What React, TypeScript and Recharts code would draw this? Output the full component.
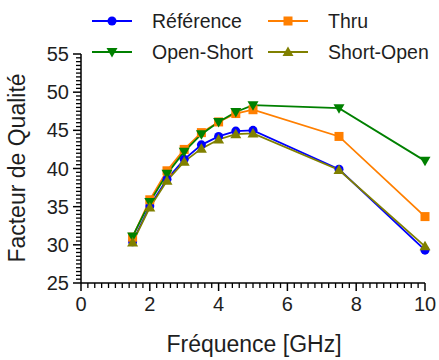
import { LineChart, Line, XAxis, YAxis } from 'recharts';

// Frequency points (GHz)
const FREQ = [1.5, 2, 2.5, 3, 3.5, 4, 4.5, 5, 7.5, 10];

// Quality factor per extraction method
const REFERENCE = [30.4, 35.1, 38.6, 41.2, 43.1, 44.2, 44.9, 45.0, 39.9, 29.3];
const THRU = [31.0, 35.9, 39.7, 42.5, 44.7, 46.1, 47.2, 47.7, 44.2, 33.7];
const OPEN_SHORT = [31.1, 35.6, 39.3, 42.2, 44.5, 46.1, 47.4, 48.3, 47.9, 41.0];
const SHORT_OPEN = [30.3, 34.9, 38.4, 40.9, 42.6, 43.8, 44.5, 44.6, 39.8, 29.8];

const X_TICKS = [0, 2, 4, 6, 8, 10];
const X_MINOR = [
  0.2, 0.4, 0.6, 0.8, 1, 1.2, 1.4, 1.6, 1.8,
  2.2, 2.4, 2.6, 2.8, 3, 3.2, 3.4, 3.6, 3.8,
  4.2, 4.4, 4.6, 4.8, 5, 5.2, 5.4, 5.6, 5.8,
  6.2, 6.4, 6.6, 6.8, 7, 7.2, 7.4, 7.6, 7.8,
  8.2, 8.4, 8.6, 8.8, 9, 9.2, 9.4, 9.6, 9.8,
];
const Y_TICKS = [25, 30, 35, 40, 45, 50, 55];
const Y_MINOR = [
  25.5, 26, 26.5, 27, 27.5, 28, 28.5, 29, 29.5,
  30.5, 31, 31.5, 32, 32.5, 33, 33.5, 34, 34.5,
  35.5, 36, 36.5, 37, 37.5, 38, 38.5, 39, 39.5,
  40.5, 41, 41.5, 42, 42.5, 43, 43.5, 44, 44.5,
  45.5, 46, 46.5, 47, 47.5, 48, 48.5, 49, 49.5,
  50.5, 51, 51.5, 52, 52.5, 53, 53.5, 54, 54.5,
];

const rows = FREQ.map((f, i) => ({
  f,
  ref: REFERENCE[i],
  thru: THRU[i],
  os: OPEN_SHORT[i],
  so: SHORT_OPEN[i],
}));

type Shape = 'circle' | 'square' | 'down' | 'up';

const SERIES: { key: string; name: string; color: string; shape: Shape }[] = [
  { key: 'ref', name: 'Référence', color: '#0000ff', shape: 'circle' },
  { key: 'thru', name: 'Thru', color: '#ff7f00', shape: 'square' },
  { key: 'os', name: 'Open-Short', color: '#008000', shape: 'down' },
  { key: 'so', name: 'Short-Open', color: '#808000', shape: 'up' },
];

const FONT = '"Liberation Sans", Arial, sans-serif';
const TEXT = '#1e1e1e';
const MAJOR_LEN = 8;
const MINOR_LEN = 5;

function Marker({ x, y, shape, color }: { x: number; y: number; shape: Shape; color: string }) {
  if (shape === 'circle') return <circle cx={x} cy={y} r={4.5} fill={color} />;
  if (shape === 'square') return <rect x={x - 4.5} y={y - 4.5} width={9} height={9} fill={color} />;
  if (shape === 'down')
    return <path d={`M${x - 5.5},${y - 4} L${x + 5.5},${y - 4} L${x},${y + 5.5} Z`} fill={color} />;
  return <path d={`M${x - 5.5},${y + 4} L${x + 5.5},${y + 4} L${x},${y - 5.5} Z`} fill={color} />;
}

const dotFor = (shape: Shape, color: string) => (props: any) => {
  const { cx, cy, index } = props;
  if (cx == null || cy == null) return <g key={index} />;
  return (
    <g key={index}>
      <Marker x={cx} y={cy} shape={shape} color={color} />
    </g>
  );
};

// tick label position comes in as (x, y) at the end of a MAJOR_LEN tick (tickMargin 0)
function XTick(props: any) {
  const { x, y, payload } = props;
  const major = X_TICKS.includes(payload.value);
  const y0 = y - MAJOR_LEN;
  return (
    <g>
      <line x1={x} y1={y0} x2={x} y2={y0 + (major ? MAJOR_LEN : MINOR_LEN)} stroke="#000" strokeWidth={major ? 1.5 : 1.3} />
      {major && (
        <text x={x} y={y0 + 28} textAnchor="middle" fill={TEXT} fontSize={20} fontFamily={FONT}>
          {payload.value}
        </text>
      )}
    </g>
  );
}

function YTick(props: any) {
  const { x, y, payload } = props;
  const major = Y_TICKS.includes(payload.value);
  const x0 = x + MAJOR_LEN;
  return (
    <g>
      <line x1={x0} y1={y} x2={x0 - (major ? MAJOR_LEN : MINOR_LEN)} y2={y} stroke="#000" strokeWidth={major ? 1.5 : 1.3} />
      {major && (
        <text x={x0 - 12} y={y + 7} textAnchor="end" fill={TEXT} fontSize={20} fontFamily={FONT}>
          {payload.value}
        </text>
      )}
    </g>
  );
}

function LegendBox() {
  const cols = [92, 268];
  const rowsY = [21, 52];
  return (
    <>
      {SERIES.map((s, i) => {
        const left = cols[i % 2];
        const top = rowsY[Math.floor(i / 2)];
        return (
          <div
            key={s.key}
            style={{ position: 'absolute', left, top: top - 12, height: 24, display: 'flex', alignItems: 'center' }}
          >
            <svg width={40} height={24}>
              <line x1={0} y1={12} x2={40} y2={12} stroke={s.color} strokeWidth={1.8} />
              <Marker x={20} y={12} shape={s.shape} color={s.color} />
            </svg>
            <span style={{ marginLeft: 20, fontFamily: FONT, fontSize: 19.5, color: TEXT, whiteSpace: 'nowrap' }}>
              {s.name}
            </span>
          </div>
        );
      })}
    </>
  );
}

export default function App() {
  return (
    <div style={{ position: 'absolute', left: 0, top: 0, width: 439, height: 360, background: '#fff' }}>
      <LineChart width={439} height={360} data={rows} margin={{ top: 54, right: 14, bottom: 0, left: 0 }}>
        <XAxis
          dataKey="f"
          type="number"
          domain={[0, 10]}
          ticks={[...X_TICKS, ...X_MINOR]}
          interval={0}
          height={77}
          tickSize={MAJOR_LEN}
          tickMargin={0}
          axisLine={{ stroke: '#000', strokeWidth: 1.5 }}
          tickLine={false}
          tick={<XTick />}
          label={{
            content: () => (
              <text x={254} y={352} textAnchor="middle" fill={TEXT} fontSize={23} fontFamily={FONT}>
                Fréquence [GHz]
              </text>
            ),
          }}
        />
        <YAxis
          type="number"
          domain={[25, 55]}
          ticks={[...Y_TICKS, ...Y_MINOR]}
          interval={0}
          width={81}
          tickSize={MAJOR_LEN}
          tickMargin={0}
          axisLine={{ stroke: '#000', strokeWidth: 1.5 }}
          tickLine={false}
          tick={<YTick />}
          label={{
            content: () => (
              <text
                x={25}
                y={168}
                textAnchor="middle"
                fill={TEXT}
                fontSize={23}
                fontFamily={FONT}
                transform="rotate(-90, 25, 168)"
              >
                Facteur de Qualité
              </text>
            ),
          }}
        />
        {SERIES.map((s) => (
          <Line
            key={s.key}
            dataKey={s.key}
            name={s.name}
            stroke={s.color}
            strokeWidth={1.8}
            dot={dotFor(s.shape, s.color)}
            activeDot={false}
            isAnimationActive={false}
          />
        ))}
      </LineChart>
      <LegendBox />
    </div>
  );
}
